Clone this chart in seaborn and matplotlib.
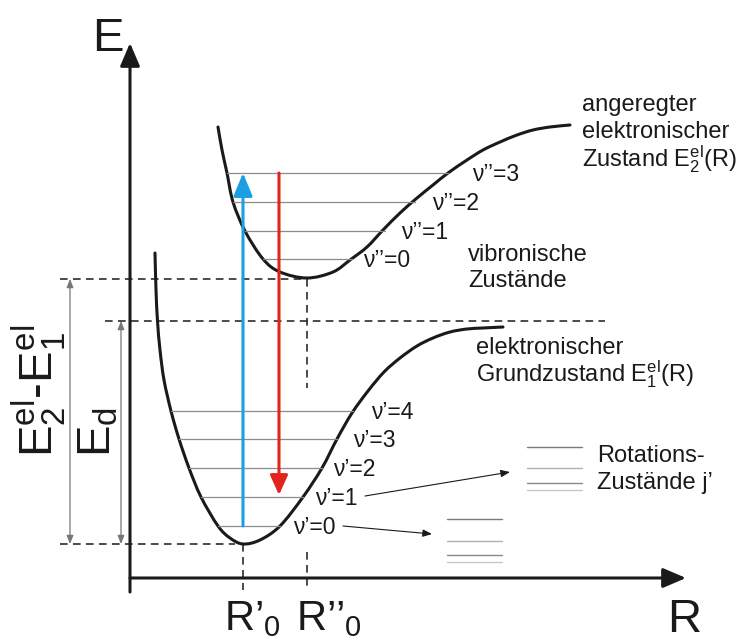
import matplotlib
matplotlib.use("Agg")
import matplotlib.pyplot as plt
from matplotlib.path import Path
from matplotlib.patches import PathPatch
import seaborn as sns

# ---- potential curves (R, E) in drawing units; the E axis is drawn top-down ----
ground_R = [155, 156, 157.5, 160, 164, 171, 179, 189, 201, 218, 230, 243, 260, 280,
            303, 322, 337, 352, 368, 384, 400, 417, 433, 450, 467, 483, 503]
ground_E = [253, 290, 321, 350, 380, 411, 439, 468, 497, 526, 538, 544, 540, 526,
            497, 468, 439, 413, 391, 372, 358, 346, 338, 332, 329, 328, 327]

excited_R = [218, 222, 227, 233, 245, 263, 280, 307, 333, 350, 367, 383, 400, 417,
             433, 448, 467, 483, 500, 517, 533, 550, 570]
excited_E = [127, 150, 173, 202, 231, 259, 272, 278, 272, 260, 247, 230, 213, 198,
             185, 173, 160, 150, 142, 135, 130, 127, 125]

# ---- vibrational levels ----
ground_level_E = [526, 497, 468, 439, 411]
ground_level_left = [218, 201, 189, 179, 171]
ground_level_right = [280, 303, 322, 337, 353]
ground_level_labels = ["ν’=0", "ν’=1", "ν’=2", "ν’=3", "ν’=4"]
ground_label_x = [293, 315, 333, 353, 371]

excited_level_E = [259, 231, 202, 173]
excited_level_left = [263, 245, 233, 227]
excited_level_right = [352, 385, 415, 448]
excited_level_labels = ["ν’’=0", "ν’’=1", "ν’’=2", "ν’’=3"]
excited_label_x = [363, 401, 432, 472]

# ---- rotational sublevels (two sketches) ----
rot_upper_E = [447, 468, 483, 490]
rot_lower_E = [519, 541, 555, 562]
rot_shades = ["#7a7a7a", "#b0b0b0", "#8a8a8a", "#c8c8c8"]
rot_upper_span = (527, 582)
rot_lower_span = (447, 502)

# ---- characteristic energies / positions ----
R0_ground = 243
R0_excited = 307
E_min_ground = 544
E_min_excited = 279
E_dissociation = 321
E_axis = 578
R_axis = 130

plt.rcParams["figure.dpi"] = 100
sns.set_theme(style="white")
plt.rcParams["font.family"] = ["Liberation Sans", "DejaVu Sans"]
plt.rcParams["mathtext.fontset"] = "custom"
plt.rcParams["mathtext.rm"] = "Liberation Sans"
plt.rcParams["mathtext.it"] = "Liberation Sans:italic"

fig = plt.figure(figsize=(7.41, 6.42), dpi=100)
ax = fig.add_axes([0, 0, 1, 1])
ax.set_xlim(0, 741)
ax.set_ylim(642, 0)
ax.axis("off")

K = "#1a1a1a"


def arrow(x0, y0, x1, y1, color=K, lw=1.0, hl=5.5, hw=2.2, style="-|>"):
    ax.annotate("", xy=(x1, y1), xytext=(x0, y0),
                arrowprops=dict(arrowstyle=f"{style},head_length={hl},head_width={hw}",
                                color=color, lw=lw, shrinkA=0, shrinkB=0,
                                mutation_scale=1))


def smooth_curve(xs, ys, **kw):
    """Draw a smooth Catmull-Rom curve through the given points as Bezier segments."""
    pts = list(zip(xs, ys))
    n = len(pts)
    verts = [pts[0]]
    codes = [Path.MOVETO]
    for i in range(n - 1):
        p0 = pts[max(i - 1, 0)]
        p1 = pts[i]
        p2 = pts[i + 1]
        p3 = pts[min(i + 2, n - 1)]
        c1 = (p1[0] + (p2[0] - p0[0]) / 6, p1[1] + (p2[1] - p0[1]) / 6)
        c2 = (p2[0] - (p3[0] - p1[0]) / 6, p2[1] - (p3[1] - p1[1]) / 6)
        verts += [c1, c2, p2]
        codes += [Path.CURVE4] * 3
    ax.add_patch(PathPatch(Path(verts, codes), fill=False, **kw))


dash = dict(color=K, lw=1.1, linestyle=(0, (5, 3.5)))

# dashed guide lines
ax.plot([60, R0_excited], [E_min_excited, E_min_excited], **dash)
ax.plot([105, 605], [E_dissociation, E_dissociation], **dash)
ax.plot([60, R0_ground - 8], [E_min_ground, E_min_ground], **dash)
ax.plot([R0_ground, R0_ground], [E_min_ground, 590], **dash)
ax.plot([R0_excited, R0_excited], [E_min_excited, 388], **dash)
ax.plot([R0_excited, R0_excited], [552, 590], **dash)

# vibrational levels
for e, l, r in zip(ground_level_E, ground_level_left, ground_level_right):
    sns.lineplot(x=[l, r], y=[e, e], color="#8c8c8c", lw=0.9, ax=ax)
for e, l, r in zip(excited_level_E, excited_level_left, excited_level_right):
    sns.lineplot(x=[l, r], y=[e, e], color="#8c8c8c", lw=0.9, ax=ax)

# rotational sublevels
for e, c in zip(rot_upper_E, rot_shades):
    ax.plot(rot_upper_span, [e, e], color=c, lw=1.0)
for e, c in zip(rot_lower_E, rot_shades):
    ax.plot(rot_lower_span, [e, e], color=c, lw=1.0)

# potential curves
smooth_curve(ground_R, ground_E, color=K, lw=2.2, capstyle="round", joinstyle="round")
smooth_curve(excited_R, excited_E, color=K, lw=2.2, capstyle="round", joinstyle="round")

# coordinate axes
arrow(R_axis, 592, R_axis, 43, lw=2.2, hl=14, hw=6)
arrow(R_axis, E_axis, 686, E_axis, lw=2.2, hl=14, hw=6)

# absorption and emission
arrow(R0_ground, ground_level_E[0], R0_ground, excited_level_E[-1],
      color="#1c9fe2", lw=2.2, hl=14, hw=5.8)
arrow(279, excited_level_E[-1], 279, 495, color="#e2251c", lw=2.2, hl=12, hw=5.4)

# energy differences
arrow(70, E_min_excited, 70, E_min_ground, color="#777777", lw=0.9, hl=5, hw=2,
      style="<|-|>")
arrow(121, E_dissociation, 121, E_min_ground, color="#777777", lw=0.9, hl=5, hw=2,
      style="<|-|>")

# pointers to the rotational sketches
arrow(365, 496, 510, 472, lw=0.8)
arrow(343, 526, 432, 534, lw=0.8)

# level labels
for lab, x, e in zip(ground_level_labels, ground_label_x, ground_level_E):
    ax.text(x, e + 8, lab, fontsize=16.5, color=K, ha="left", va="baseline")
for lab, x, e in zip(excited_level_labels, excited_label_x, excited_level_E):
    ax.text(x, e + 8, lab, fontsize=16.5, color=K, ha="left", va="baseline")

# descriptive text
ax.text(582, 111, "angeregter", fontsize=17, color=K, va="baseline")
ax.text(582, 138.5, "elektronischer", fontsize=17, color=K, va="baseline")
ax.text(582, 166, r"Zustand $\mathregular{E_2^{el}}$(R)", fontsize=17, color=K,
        va="baseline")
ax.text(468, 261, "vibronische", fontsize=17, color=K, va="baseline")
ax.text(468, 287, "Zustände", fontsize=17, color=K, va="baseline")
ax.text(476, 354, "elektronischer", fontsize=17, color=K, va="baseline")
ax.text(476, 381, r"Grundzustand $\mathregular{E_1^{el}}$(R)", fontsize=17, color=K,
        va="baseline")
ax.text(597, 462, "Rotations-", fontsize=17, color=K, va="baseline")
ax.text(597, 489, "Zustände j’", fontsize=17, color=K, va="baseline")

# axis labels
ax.text(92, 51, "E", fontsize=34, color=K, va="baseline")
ax.text(667, 632, "R", fontsize=34, color=K, va="baseline")
ax.text(224, 630, r"$\mathregular{R’_0}$", fontsize=30, color=K, va="baseline")
ax.text(296, 630, r"$\mathregular{R’’_0}$", fontsize=30, color=K, va="baseline")

# rotated energy labels
ax.text(53, 457, r"$\mathregular{E_2^{el}}$-$\mathregular{E_1^{el}}$", fontsize=34,
        color=K, rotation=90, rotation_mode="anchor", ha="left", va="baseline")
ax.text(110, 457, r"$\mathregular{E_d}$", fontsize=34, color=K, rotation=90,
        rotation_mode="anchor", ha="left", va="baseline")

fig.savefig("out.png", dpi=100)
